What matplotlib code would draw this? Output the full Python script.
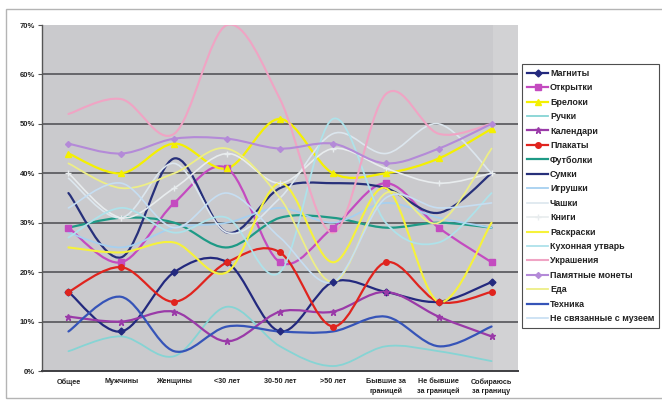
import matplotlib
matplotlib.use("Agg")
import matplotlib.pyplot as plt
from matplotlib.path import Path
from matplotlib.patches import PathPatch, Rectangle
from matplotlib.lines import Line2D

plt.rcParams['font.family'] = ['Liberation Sans', 'DejaVu Sans']

categories = ["Общее", "Мужчины", "Женщины", "<30 лет", "30-50 лет", ">50 лет",
              "Бывшие за\nграницей", "Не бывшие\nза границей", "Собираюсь\nза границу"]

magnets     = [16, 8, 20, 22, 8, 18, 16, 14, 18]
postcards   = [29, 22, 34, 41, 22, 29, 38, 29, 22]
keychains   = [44, 40, 46, 41, 51, 40, 40, 43, 49]
pens        = [4, 7, 3, 13, 5, 1, 5, 4, 2]
calendars   = [11, 10, 12, 6, 12, 12, 16, 11, 7]
posters     = [16, 21, 14, 22, 24, 9, 22, 14, 16]
tshirts     = [29, 31, 30, 25, 31, 31, 29, 30, 29]
bags        = [36, 23, 43, 28, 37, 38, 37, 32, 40]
toys        = [28, 25, 29, 30, 33, 30, 34, 31, 29]
cups        = [39, 31, 42, 28, 35, 48, 44, 50, 40]
books       = [40, 31, 37, 44, 38, 45, 41, 38, 40]
coloring    = [25, 24, 26, 20, 38, 22, 37, 14, 30]
kitchenware = [27, 33, 28, 31, 20, 51, 30, 26, 36]
jewelry     = [52, 55, 48, 70, 55, 28, 56, 48, 50]
coins       = [46, 44, 47, 47, 45, 46, 42, 45, 50]
food        = [42, 37, 40, 45, 35, 18, 36, 30, 45]
electronics = [8, 15, 4, 9, 8, 8, 11, 5, 9]
unrelated   = [33, 38, 29, 36, 27, 18, 35, 33, 34]

series = [
    ("Магниты", magnets, "#23297E", "D", 3.5, 1.6),
    ("Открытки", postcards, "#C44BC0", "s", 4, 1.6),
    ("Брелоки", keychains, "#F4F000", "^", 4, 1.6),
    ("Ручки", pens, "#86D4D4", None, 0, 1.3),
    ("Календари", calendars, "#9A3AA8", "*", 5, 1.6),
    ("Плакаты", posters, "#E0241E", "o", 4, 1.6),
    ("Футболки", tshirts, "#1E9A86", None, 0, 1.6),
    ("Сумки", bags, "#27307A", None, 0, 1.6),
    ("Игрушки", toys, "#A6D0F0", None, 0, 1.3),
    ("Чашки", cups, "#DCE6EE", None, 0, 1.2),
    ("Книги", books, "#E8ECEE", "+", 4, 1.2),
    ("Раскраски", coloring, "#F6F23A", None, 0, 1.5),
    ("Кухонная утварь", kitchenware, "#AEE2EA", None, 0, 1.3),
    ("Украшения", jewelry, "#F0A4C4", None, 0, 1.5),
    ("Памятные монеты", coins, "#B48AD8", "D", 3, 1.5),
    ("Еда", food, "#EDEE86", None, 0, 1.3),
    ("Техника", electronics, "#3654B8", None, 0, 1.6),
    ("Не связанные с музеем", unrelated, "#C6DEF2", None, 0, 1.2),
]


def smooth_path(xs, ys):
    """Cubic Bezier path through the points (Catmull-Rom style tangents)."""
    n = len(xs)
    pts = list(zip(xs, ys))
    verts = [pts[0]]
    codes = [Path.MOVETO]
    for i in range(n - 1):
        p0 = pts[i - 1] if i > 0 else pts[i]
        p1 = pts[i]
        p2 = pts[i + 1]
        p3 = pts[i + 2] if i + 2 < n else pts[i + 1]
        c1 = (p1[0] + (p2[0] - p0[0]) / 6.0, p1[1] + (p2[1] - p0[1]) / 6.0)
        c2 = (p2[0] - (p3[0] - p1[0]) / 6.0, p2[1] - (p3[1] - p1[1]) / 6.0)
        verts += [c1, c2, p2]
        codes += [Path.CURVE4] * 3
    return Path(verts, codes)


fig = plt.figure(figsize=(6.62, 4.0), dpi=100)
fig.patch.set_facecolor("white")

# outer chart frame
fig.patches.append(Rectangle((6 / 662, 2 / 400), 700 / 662, 389 / 400,
                             transform=fig.transFigure, fill=False,
                             edgecolor="#B4B4B4", linewidth=1.0))

ax = fig.add_axes([42 / 662, 1 - 371 / 400, 476 / 662, 346 / 400])
ax.set_facecolor("#CACACD")
ax.set_xlim(-0.5, 8.5)
ax.set_ylim(0, 70)

ax.axvspan(8.02, 8.5, color="#D2D2D4", zorder=0, lw=0)

for v in range(10, 70, 10):
    ax.axhline(v, color="#5E5E62", lw=1.3, zorder=1)

x = list(range(len(categories)))
handles = []
for name, vals, color, marker, ms, lw in series:
    path = smooth_path(x, vals)
    ax.add_patch(PathPatch(path, facecolor="none", edgecolor=color, lw=lw,
                           zorder=3, capstyle="round", joinstyle="round"))
    if marker:
        ax.plot(x, vals, linestyle="none", marker=marker, markersize=ms,
                color=color, markeredgecolor=color, zorder=4)
    handles.append(Line2D([], [], color=color, lw=lw, marker=marker,
                          markersize=ms, label=name))

ax.set_yticks(range(0, 71, 10))
ax.set_yticklabels([f"{v}%" for v in range(0, 71, 10)], fontsize=5.5,
                   fontweight="bold", color="#222222")
ax.set_xticks(x)
ax.set_xticklabels(categories, fontsize=5.2, fontweight="bold", color="#222222",
                   linespacing=1.5)
ax.tick_params(axis="y", length=3, width=0.8, color="#555555", pad=2)
ax.tick_params(axis="x", length=0, pad=5)

for side in ("top", "right"):
    ax.spines[side].set_visible(False)
ax.spines["left"].set_color("#555555")
ax.spines["left"].set_linewidth(1.0)
ax.spines["bottom"].set_color("#3E3E42")
ax.spines["bottom"].set_linewidth(1.4)

leg = fig.legend(handles=handles, loc="upper left",
                 bbox_to_anchor=(522 / 662, 1 - 64 / 400),
                 prop={"weight": "bold", "size": 6.4},
                 frameon=True, fancybox=False, borderaxespad=0,
                 handlelength=2.4, handletextpad=0.2, labelspacing=0.61,
                 borderpad=0.55)
leg.get_frame().set_edgecolor("#222222")
leg.get_frame().set_linewidth(0.8)
for t in leg.get_texts():
    t.set_color("#222222")

fig.savefig("out.png", dpi=100, facecolor="white")
